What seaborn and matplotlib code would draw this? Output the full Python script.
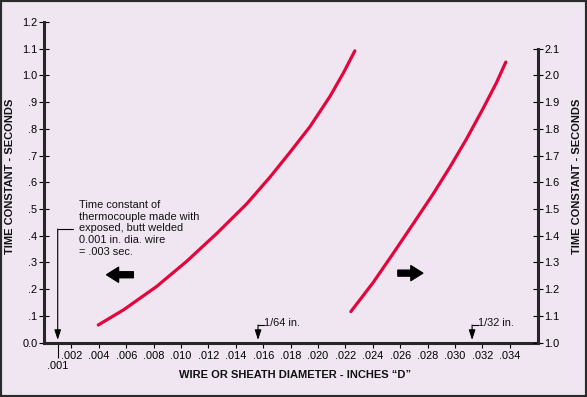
import pandas as pd
import seaborn as sns
import matplotlib.pyplot as plt
from matplotlib.patches import Rectangle

# curve read against the left scale (0 - 1.2 s)
left_d = [0.00396, 0.00579, 0.00822, 0.01041, 0.01260, 0.01479, 0.01649,
          0.01795, 0.01941, 0.02087, 0.02184, 0.02269]
left_t = [0.066, 0.122, 0.210, 0.304, 0.408, 0.519, 0.619,
          0.712, 0.808, 0.921, 1.008, 1.092]

# curve read against the right scale (1.0 - 2.1 s)
right_d = [0.02240, 0.02403, 0.02549, 0.02694, 0.02840, 0.02962, 0.03084,
           0.03205, 0.03303, 0.03371]
right_t = [1.116, 1.225, 1.334, 1.444, 1.556, 1.656, 1.762,
           1.876, 1.973, 2.050]

x_ticks = [0.002, 0.004, 0.006, 0.008, 0.010, 0.012, 0.014, 0.016, 0.018,
           0.020, 0.022, 0.024, 0.026, 0.028, 0.030, 0.032, 0.034]
x_labels = [".002", ".004", ".006", ".008", ".010", ".012", ".014", ".016", ".018",
            ".020", ".022", ".024", ".026", ".028", ".030", ".032", ".034"]
left_ticks = [0.0, 0.1, 0.2, 0.3, 0.4, 0.5, 0.6, 0.7, 0.8, 0.9, 1.0, 1.1, 1.2]
left_labels = ["0.0", ".1", ".2", ".3", ".4", ".5", ".6", ".7", ".8", ".9", "1.0", "1.1", "1.2"]
right_ticks = [1.0, 1.1, 1.2, 1.3, 1.4, 1.5, 1.6, 1.7, 1.8, 1.9, 2.0, 2.1]
right_labels = ["1.0", "1.1", "1.2", "1.3", "1.4", "1.5", "1.6", "1.7", "1.8", "1.9", "2.0", "2.1"]

size_marks = [1 / 64, 1 / 32]
size_names = ["1/64 in.", "1/32 in."]

note = ("Time constant of\nthermocouple made with\nexposed, butt welded\n"
        "0.001 in. dia. wire\n= .003 sec.")

bg = "#EFE6F1"
red = "#E2063C"
fs = 7.9

sns.set_theme(style="ticks")
plt.rcParams['font.family'] = ['Liberation Sans', 'DejaVu Sans']

fig = plt.figure(figsize=(5.87, 3.97), dpi=100, facecolor=bg)
ax = fig.add_axes([44 / 587, 1 - 342.6 / 397, 494 / 587, 320.6 / 397])
ax.set_facecolor(bg)
ax2 = ax.twinx()

left_df = pd.DataFrame({"D": left_d, "T": left_t})
right_df = pd.DataFrame({"D": right_d, "T": right_t})
sns.lineplot(data=left_df, x="D", y="T", ax=ax, color=red, lw=2.3,
             solid_joinstyle="round")
sns.lineplot(data=right_df, x="D", y="T", ax=ax2, color=red, lw=2.3,
             solid_joinstyle="round")

ax.set_xlim(0, 0.03606)
ax.set_ylim(0, 1.2)
ax2.set_ylim(1.0, 2.2)
for a in (ax, ax2):
    a.set_xlabel("")
    a.set_ylabel("")

ax.set_xticks(x_ticks, labels=x_labels)
ax.set_xticks([0.001], labels=[".001"], minor=True)
ax.set_yticks(left_ticks, labels=left_labels)
ax2.set_yticks(right_ticks, labels=right_labels)

ax.spines[["top", "right"]].set_visible(False)
ax2.spines[["top", "left", "bottom"]].set_visible(False)
ax.spines["left"].set_linewidth(2.2)
ax.spines["bottom"].set_linewidth(2.2)
ax2.spines["right"].set_linewidth(2.2)
ax2.spines["right"].set_bounds(1.0, 2.1)

ax.tick_params(axis="y", which="major", left=True, direction="inout", length=6.5,
               width=0.8, pad=1.5, labelsize=fs, colors="black")
ax.tick_params(axis="x", which="major", bottom=True, direction="out", length=3.5,
               width=0.8, pad=2.2, labelsize=fs, colors="black")
ax.tick_params(axis="x", which="minor", bottom=True, direction="out", length=10.5,
               width=0.8, pad=2.6, labelsize=fs, colors="black")
ax.tick_params(axis="y", which="minor", left=False)
ax2.tick_params(axis="y", right=True, direction="inout", length=6.5, width=0.8,
                pad=1.5, labelsize=fs, colors="black")

# note with leader pointing at .001
ax.text(0.00255, 0.533, note, ha="left", va="top", fontsize=fs, color="#111111")
ax.plot([0.0021, 0.001], [0.425, 0.425], color="black", lw=0.8)
arrow_small = dict(arrowstyle="-|>,head_length=0.6,head_width=0.2", color="black",
                   lw=0.8, shrinkA=0, shrinkB=0, mutation_scale=10)
ax.annotate("", xy=(0.001, 0.01), xytext=(0.001, 0.425), arrowprops=arrow_small)

# 1/64 and 1/32 markers
for d, name in zip(size_marks, size_names):
    ax.annotate("", xy=(d, 0.01), xytext=(d, 0.066), arrowprops=arrow_small)
    ax.plot([d, d + 0.00044], [0.066, 0.066], color="black", lw=0.8)
    ax.text(d + 0.00044, 0.072, name, ha="left", va="center", fontsize=fs, color="#111111")

# block arrows showing which scale each curve uses
big = dict(arrowstyle="simple,head_length=0.86,head_width=1.08,tail_width=0.43",
           color="black", shrinkA=0, shrinkB=0, mutation_scale=10)
ax.annotate("", xy=(0.00457, 0.254), xytext=(0.00652, 0.254), arrowprops=big)
ax.annotate("", xy=(0.02765, 0.26), xytext=(0.02583, 0.26), arrowprops=big)

fig.text(10.5 / 587, 1 - 176 / 397, "TIME CONSTANT - SECONDS", rotation=90,
         ha="center", va="center", fontsize=8, fontweight="bold", color="#111111")
fig.text(577 / 587, 1 - 176 / 397, "TIME CONSTANT - SECONDS", rotation=90,
         ha="center", va="center", fontsize=8, fontweight="bold", color="#111111")
fig.text(295 / 587, 1 - 375 / 397, "WIRE OR SHEATH DIAMETER - INCHES \u201cD\u201d",
         ha="center", va="center", fontsize=8, fontweight="bold", color="#111111")

fig.patches.append(Rectangle((0, 0), 1, 1, transform=fig.transFigure, fill=False,
                             edgecolor="#2a2a2a", lw=3))

fig.savefig("out.png", dpi=100, facecolor=bg)
